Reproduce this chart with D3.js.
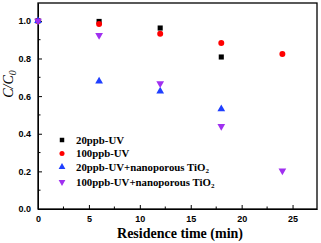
<!DOCTYPE html>
<html>
<head>
<meta charset="utf-8">
<script src="https://cdn.jsdelivr.net/npm/d3@7"></script>
<style>
  body { margin: 0; background: #fff; }
  svg { display: block; }
</style>
</head>
<body>
<div id="chart"></div>
<script>
const times = [0, 6, 12, 18, 24];
const uv20 = [1.0, 0.997, 0.962, 0.808];
const uv100 = [1.0, 0.983, 0.932, 0.882, 0.824];
const uv20Ti = [1.0, 0.679, 0.626, 0.532];
const uv100Ti = [1.0, 0.923, 0.667, 0.44, 0.203];
const xTicks = [0, 5, 10, 15, 20, 25];
const yTicks = [0.0, 0.2, 0.4, 0.6, 0.8, 1.0];

const series = [
  {name: "20ppb-UV", values: uv20, color: "#000000", shape: "square"},
  {name: "100ppb-UV", values: uv100, color: "#ff0000", shape: "circle"},
  {name: "20ppb-UV+nanoporous TiO", sub: "2", values: uv20Ti, color: "#1f3fff", shape: "tri"},
  {name: "100ppb-UV+nanoporous TiO", sub: "2", values: uv100Ti, color: "#a030f0", shape: "tridown"}
];

const width = 321, height = 243;
const margin = {top: 3, right: 4, bottom: 34, left: 38};

const svg = d3.select("#chart")
  .append("svg")
  .attr("width", width)
  .attr("height", height);

const x = d3.scaleLinear().domain([0, 27.4]).range([margin.left, width - margin.right]);
const y = d3.scaleLinear().domain([0, 1.095]).range([height - margin.bottom, margin.top]);

function symbolType(shape) {
  if (shape === "square") return d3.symbolSquare;
  if (shape === "circle") return d3.symbolCircle;
  return d3.symbolTriangle;
}

// axes with inward ticks
const xAxis = d3.axisBottom(x).tickValues(xTicks).tickSizeInner(-4).tickSizeOuter(0).tickPadding(7);
const yAxis = d3.axisLeft(y).tickValues(yTicks).tickFormat(d3.format(".1f")).tickSizeInner(-4).tickSizeOuter(0).tickPadding(7);

const gx = svg.append("g")
  .attr("transform", `translate(0,${height - margin.bottom})`)
  .call(xAxis);
const gy = svg.append("g")
  .attr("transform", `translate(${margin.left},0)`)
  .call(yAxis);

// minor ticks
svg.append("g").selectAll("line")
  .data(d3.range(2.5, 27, 5))
  .join("line")
  .attr("x1", d => x(d)).attr("x2", d => x(d))
  .attr("y1", height - margin.bottom).attr("y2", height - margin.bottom - 2.5)
  .attr("stroke", "#000");
svg.append("g").selectAll("line")
  .data(d3.range(0.1, 1.09, 0.2))
  .join("line")
  .attr("x1", margin.left).attr("x2", margin.left + 2.5)
  .attr("y1", d => y(d)).attr("y2", d => y(d))
  .attr("stroke", "#000");

[gx, gy].forEach(g => {
  g.selectAll("path, line").attr("stroke", "#000");
  g.selectAll("text")
    .attr("font-family", "Liberation Sans, Arial, sans-serif")
    .attr("font-weight", "bold")
    .attr("font-size", 9)
    .attr("fill", "#000");
});

// frame
svg.append("rect")
  .attr("x", margin.left).attr("y", margin.top)
  .attr("width", width - margin.left - margin.right)
  .attr("height", height - margin.top - margin.bottom)
  .attr("fill", "none").attr("stroke", "#000").attr("stroke-width", 1.3);

// points
series.forEach(s => {
  svg.append("g").selectAll("path")
    .data(s.values.map((v, i) => ({t: times[i], v})))
    .join("path")
    .attr("d", d3.symbol(symbolType(s.shape), s.shape === "circle" ? 28 : 26)())
    .attr("transform", d => `translate(${x(d.t)},${y(d.v)})` + (s.shape === "tridown" ? " rotate(180)" : ""))
    .attr("fill", s.color);
});

// legend
const legend = svg.append("g").attr("transform", "translate(62,140)");
const rowY = [0, 13.5, 27, 42];
series.forEach((s, i) => {
  const row = legend.append("g").attr("transform", `translate(0,${rowY[i]})`);
  row.append("path")
    .attr("d", d3.symbol(symbolType(s.shape), 20)())
    .attr("transform", s.shape === "tridown" ? "rotate(180)" : null)
    .attr("fill", s.color);
  const t = row.append("text")
    .attr("x", 14).attr("y", 3.8)
    .attr("font-family", "Liberation Serif, Times New Roman, serif")
    .attr("font-weight", "bold")
    .attr("font-size", 10.8)
    .attr("fill", "#000")
    .text(s.name);
  if (s.sub) {
    t.append("tspan").attr("dy", 2.5).attr("font-size", 7).text(s.sub);
  }
});

// axis titles
svg.append("text")
  .attr("x", 180)
  .attr("y", 238)
  .attr("text-anchor", "middle")
  .attr("font-family", "Liberation Serif, Times New Roman, serif")
  .attr("font-weight", "bold")
  .attr("font-size", 14)
  .text("Residence time (min)");

const yl = svg.append("text")
  .attr("transform", "translate(13,84) rotate(-90)")
  .attr("text-anchor", "middle")
  .attr("font-family", "Liberation Serif, Times New Roman, serif")
  .attr("font-style", "italic")
  .attr("font-size", 14)
  .text("C/C");
yl.append("tspan").attr("dy", 2.5).attr("font-size", 10).text("0");
</script>
</body>
</html>
